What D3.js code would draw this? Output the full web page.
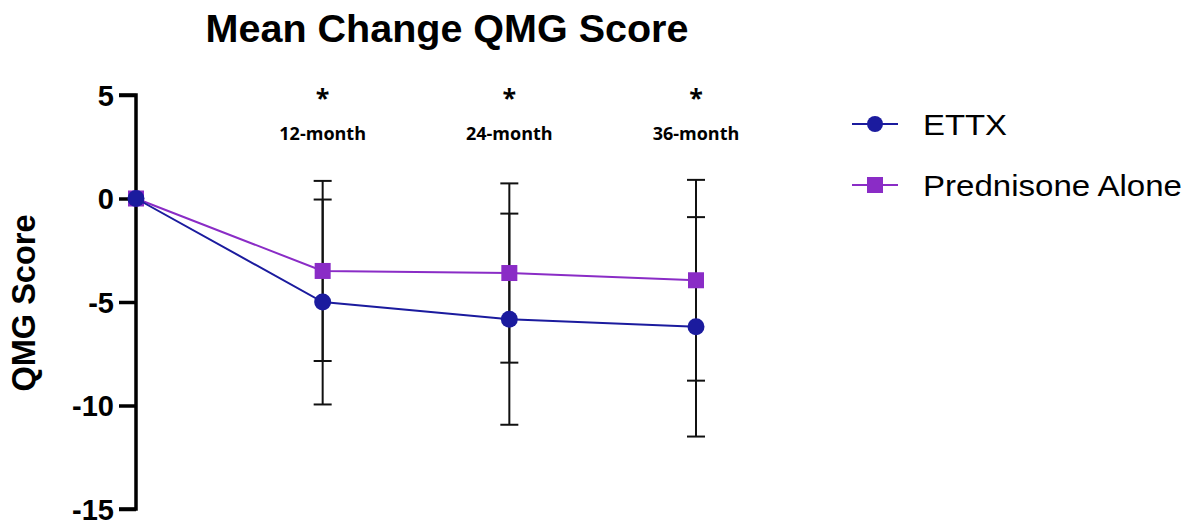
<!DOCTYPE html>
<html>
<head>
<meta charset="utf-8">
<script src="https://cdn.jsdelivr.net/npm/d3@7"></script>
<style>
  html, body { margin: 0; padding: 0; background: #fff; }
  svg { display: block; }
</style>
</head>
<body>
<svg id="chart" width="1198" height="524"></svg>
<script>
// Months of follow-up
const months = [0, 12, 24, 36];
const timepointLabels = ["", "12-month", "24-month", "36-month"];
const significance = ["", "*", "*", "*"];

// Mean change from baseline in QMG score, with SD
const ettxMean = [0, -5.0, -5.83, -6.2];
const ettxSD = [0, 4.95, 5.1, 5.3];
const prednisoneMean = [0, -3.5, -3.6, -3.95];
const prednisoneSD = [0, 4.35, 4.33, 4.85];

const yTicks = [5, 0, -5, -10, -15];

const seriesNames = ["ETTX", "Prednisone Alone"];
const seriesColors = ["#1b1b9e", "#8a2cc6"];

const svg = d3.select("#chart");

const x = d3.scaleLinear().domain([0, 36]).range([136, 696]);
const y = d3.scaleLinear().domain([-15, 5]).range([509, 95]);

// Title
svg.append("text")
  .attr("x", 447).attr("y", 42)
  .attr("text-anchor", "middle")
  .attr("font-family", "Liberation Sans, Arial, sans-serif")
  .attr("font-weight", "bold")
  .attr("font-size", 39.5)
  .text("Mean Change QMG Score");

// Y axis
const tick = 17;
const yAxis = d3.axisLeft(y).tickValues(yTicks).tickSize(tick).tickPadding(5).tickFormat(d => String(d));
const gy = svg.append("g").attr("transform", `translate(${x(0)},0)`).call(yAxis);
gy.select(".domain").attr("stroke", "#000").attr("stroke-width", 3.5)
  .attr("d", `M-${tick},${y(5)}H0V${y(-15)}H-${tick}`);
gy.selectAll(".tick line").attr("stroke", "#000").attr("stroke-width", 3.5);
gy.selectAll(".tick text")
  .attr("font-family", "Liberation Sans, Arial, sans-serif")
  .attr("font-weight", "bold")
  .attr("font-size", 29)
  .attr("fill", "#000")
  .attr("dy", "0.36em");

// Y axis title
svg.append("text")
  .attr("transform", `translate(35,303) rotate(-90)`)
  .attr("text-anchor", "middle")
  .attr("font-family", "Liberation Sans, Arial, sans-serif")
  .attr("font-weight", "bold")
  .attr("font-size", 32.5)
  .text("QMG Score");

// Timepoint annotations
const ann = svg.append("g");
months.forEach((m, i) => {
  if (!timepointLabels[i]) return;
  ann.append("text")
    .attr("x", x(m)).attr("y", 107)
    .attr("text-anchor", "middle")
    .attr("font-family", "Open Sans, sans-serif")
    .attr("font-weight", "bold")
    .attr("font-size", 25)
    .text(significance[i]);
  ann.append("text")
    .attr("x", x(m)).attr("y", 140)
    .attr("text-anchor", "middle")
    .attr("font-family", "Open Sans, sans-serif")
    .attr("font-weight", "bold")
    .attr("font-size", 18)
    .text(timepointLabels[i]);
});

// Error bars (mean ± SD), drawn beneath the lines
const capHalf = 9;
const errG = svg.append("g").attr("stroke", "#111").attr("stroke-width", 2).attr("fill", "none");
[[ettxMean, ettxSD], [prednisoneMean, prednisoneSD]].forEach(([mean, sd]) => {
  months.forEach((m, i) => {
    if (sd[i] === 0) return;
    const lo = y(mean[i] - sd[i]), hi = y(mean[i] + sd[i]), cx = x(m);
    errG.append("line").attr("x1", cx).attr("x2", cx).attr("y1", lo).attr("y2", hi);
    errG.append("line").attr("x1", cx - capHalf).attr("x2", cx + capHalf).attr("y1", lo).attr("y2", lo);
    errG.append("line").attr("x1", cx - capHalf).attr("x2", cx + capHalf).attr("y1", hi).attr("y2", hi);
  });
});

const line = d3.line().x(d => x(d[0])).y(d => y(d[1]));

// Prednisone Alone
const pData = months.map((m, i) => [m, prednisoneMean[i]]);
svg.append("path").datum(pData).attr("d", line)
  .attr("fill", "none").attr("stroke", seriesColors[1]).attr("stroke-width", 2);
svg.append("g").selectAll("rect").data(pData).join("rect")
  .attr("x", d => x(d[0]) - 8).attr("y", d => y(d[1]) - 8)
  .attr("width", 16).attr("height", 16)
  .attr("fill", seriesColors[1]);

// ETTX
const eData = months.map((m, i) => [m, ettxMean[i]]);
svg.append("path").datum(eData).attr("d", line)
  .attr("fill", "none").attr("stroke", seriesColors[0]).attr("stroke-width", 2);
svg.append("g").selectAll("circle").data(eData).join("circle")
  .attr("cx", d => x(d[0])).attr("cy", d => y(d[1])).attr("r", 8.5)
  .attr("fill", seriesColors[0]);

// Legend
const legend = svg.append("g");
const legendWidths = [84, 259];
seriesNames.forEach((name, i) => {
  const ly = 124 + i * 61;
  legend.append("line").attr("x1", 852).attr("x2", 898).attr("y1", ly).attr("y2", ly)
    .attr("stroke", seriesColors[i]).attr("stroke-width", 2);
  if (i === 0) {
    legend.append("circle").attr("cx", 875).attr("cy", ly).attr("r", 8).attr("fill", seriesColors[i]);
  } else {
    legend.append("rect").attr("x", 867).attr("y", ly - 8).attr("width", 16).attr("height", 16).attr("fill", seriesColors[i]);
  }
  legend.append("text")
    .attr("x", 923).attr("y", ly + 11)
    .attr("font-family", "Liberation Sans, Arial, sans-serif")
    .attr("font-size", 30)
    .attr("textLength", legendWidths[i])
    .attr("lengthAdjust", "spacingAndGlyphs")
    .text(name);
});
</script>
</body>
</html>
